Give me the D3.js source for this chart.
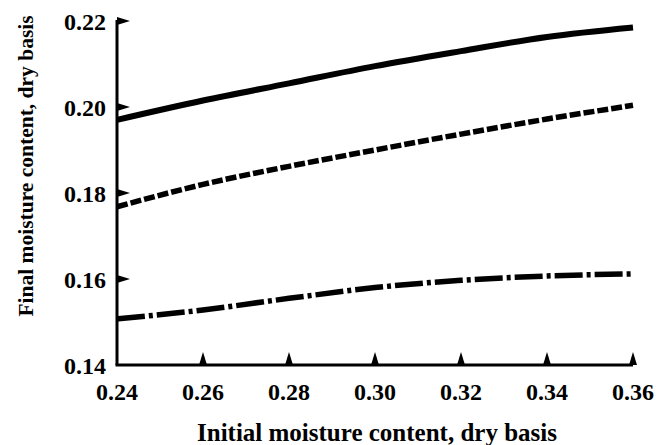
<!DOCTYPE html>
<html>
<head>
<script src="https://d3js.org/d3.v7.min.js"></script>
<style>
  body { margin: 0; background: #fff; }
  text { font-family: "Liberation Serif", "DejaVu Serif", serif; font-weight: bold; fill: #000; }
</style>
</head>
<body>
<svg width="667" height="445"></svg>
<script>
// data
var xVals = [0.24, 0.26, 0.28, 0.30, 0.32, 0.34, 0.36];
var solidVals = [0.1970, 0.2015, 0.2055, 0.2095, 0.2130, 0.2163, 0.2185];
var dashedVals = [0.1768, 0.1820, 0.1862, 0.1900, 0.1937, 0.1972, 0.2004];
var dashDotVals = [0.1507, 0.1528, 0.1555, 0.1580, 0.1597, 0.1607, 0.1612];
var xTicks = [0.24, 0.26, 0.28, 0.30, 0.32, 0.34, 0.36];
var yTicks = [0.14, 0.16, 0.18, 0.20, 0.22];

var svg = d3.select("svg");
var x = d3.scaleLinear().domain([0.24, 0.36]).range([117, 633]);
var y = d3.scaleLinear().domain([0.14, 0.22]).range([365, 21]);

// axes lines
svg.append("line").attr("x1", x(0.24)).attr("x2", x(0.24)).attr("y1", y(0.14)).attr("y2", y(0.22) - 1)
  .attr("stroke", "#000").attr("stroke-width", 3);
svg.append("line").attr("x1", x(0.24) - 1.5).attr("x2", x(0.36)).attr("y1", y(0.14)).attr("y2", y(0.14))
  .attr("stroke", "#000").attr("stroke-width", 3);

// triangle ticks
yTicks.filter(function(d) { return d > 0.14; }).forEach(function(d) {
  var px = x(0.24), py = y(d);
  svg.append("path").attr("d", "M" + px + "," + (py - 4) + "L" + (px + 13) + "," + py + "L" + px + "," + (py + 4) + "Z")
    .attr("fill", "#000");
});
xTicks.filter(function(d) { return d > 0.24; }).forEach(function(d) {
  var px = x(d), py = y(0.14);
  svg.append("path").attr("d", "M" + (px - 4) + "," + py + "L" + px + "," + (py - 13) + "L" + (px + 4) + "," + py + "Z")
    .attr("fill", "#000");
});

// tick labels
svg.selectAll(".ylab").data(yTicks).enter().append("text")
  .attr("x", 106).attr("y", function(d) { return y(d) + 9; })
  .attr("text-anchor", "end").style("font-size", "24px")
  .text(function(d) { return d.toFixed(2); });
svg.selectAll(".xlab").data(xTicks).enter().append("text")
  .attr("x", function(d) { return x(d); }).attr("y", 400)
  .attr("text-anchor", "middle").style("font-size", "24px")
  .text(function(d) { return d.toFixed(2); });

// axis titles
svg.append("text").attr("x", 377).attr("y", 441).attr("text-anchor", "middle")
  .style("font-size", "25px").text("Initial moisture content, dry basis");
svg.append("text").attr("transform", "translate(33,166) rotate(-90)").attr("text-anchor", "middle")
  .style("font-size", "21.5px").text("Final moisture content, dry basis");

// curves
var line = d3.line().x(function(d) { return x(d[0]); }).y(function(d) { return y(d[1]); }).curve(d3.curveMonotoneX);
function series(vals) { return xVals.map(function(v, i) { return [v, vals[i]]; }); }

svg.append("path").datum(series(solidVals)).attr("d", line)
  .attr("fill", "none").attr("stroke", "#000").attr("stroke-width", 6);
svg.append("path").datum(series(dashedVals)).attr("d", line)
  .attr("fill", "none").attr("stroke", "#000").attr("stroke-width", 5.5)
  .attr("stroke-dasharray", "11,3");
svg.append("path").datum(series(dashDotVals)).attr("d", line)
  .attr("fill", "none").attr("stroke", "#000").attr("stroke-width", 5.5)
  .attr("stroke-dasharray", "28,4,4,4");
</script>
</body>
</html>
